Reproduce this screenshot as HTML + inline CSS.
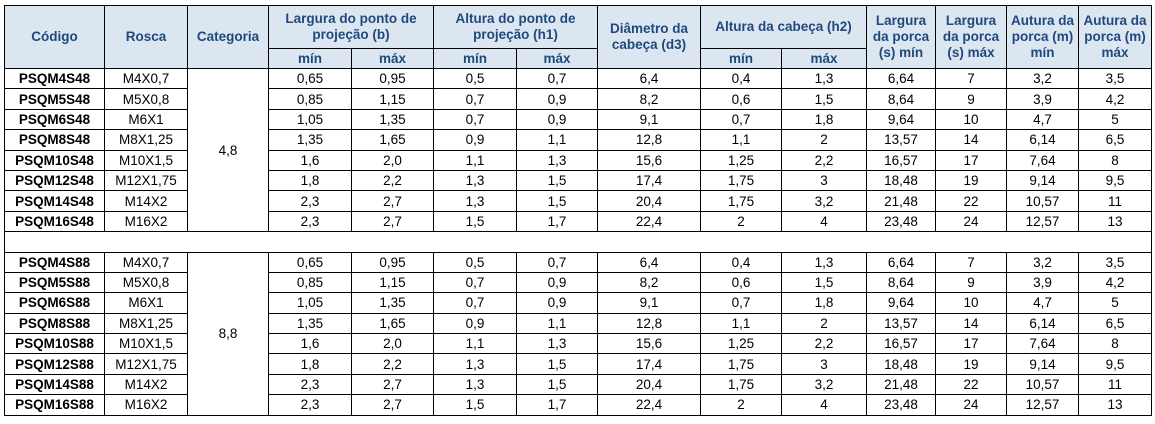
<!DOCTYPE html>
<html><head><meta charset="utf-8"><style>
body{margin:0;background:#fff;width:1155px;height:424px;overflow:hidden}
table{position:absolute;left:4px;top:5px;border-collapse:collapse;table-layout:fixed;font-family:"Liberation Sans",sans-serif;font-size:13.5px;color:#000}
td,th{border:1px solid #000;text-align:center;padding:0;white-space:nowrap;overflow:hidden}
th{background:#dce6f1;color:#1f497d;font-weight:bold;font-size:13.5px;line-height:16px}
tr.h1 th{height:42px}
tr.h2 th{height:19px}
tbody tr td{height:19.4px;line-height:17px}
td.c{font-weight:bold}
tr.gap td{height:19.4px}
</style></head><body>
<table>
<colgroup><col style="width:100px"><col style="width:83px"><col style="width:81px"><col style="width:83px"><col style="width:82px"><col style="width:83px"><col style="width:81px"><col style="width:103px"><col style="width:81px"><col style="width:85px"><col style="width:69px"><col style="width:71px"><col style="width:72px"><col style="width:73px"></colgroup>
<thead>
<tr class="h1"><th rowspan="2">Código</th><th rowspan="2">Rosca</th><th rowspan="2">Categoria</th><th colspan="2">Largura do ponto de<br>projeção (b)</th><th colspan="2">Altura do ponto de<br>projeção (h1)</th><th rowspan="2">Diâmetro da<br>cabeça (d3)</th><th colspan="2">Altura da cabeça (h2)</th><th rowspan="2">Largura<br>da porca<br>(s) mín</th><th rowspan="2">Largura<br>da porca<br>(s) máx</th><th rowspan="2">Autura da<br>porca (m)<br>mín</th><th rowspan="2">Autura da<br>porca (m)<br>máx</th></tr>
<tr class="h2"><th>mín</th><th>máx</th><th>mín</th><th>máx</th><th>mín</th><th>máx</th></tr>
</thead>
<tbody>
<tr><td class="c">PSQM4S48</td><td>M4X0,7</td><td rowspan="8">4,8</td><td>0,65</td><td>0,95</td><td>0,5</td><td>0,7</td><td>6,4</td><td>0,4</td><td>1,3</td><td>6,64</td><td>7</td><td>3,2</td><td>3,5</td></tr>
<tr><td class="c">PSQM5S48</td><td>M5X0,8</td><td>0,85</td><td>1,15</td><td>0,7</td><td>0,9</td><td>8,2</td><td>0,6</td><td>1,5</td><td>8,64</td><td>9</td><td>3,9</td><td>4,2</td></tr>
<tr><td class="c">PSQM6S48</td><td>M6X1</td><td>1,05</td><td>1,35</td><td>0,7</td><td>0,9</td><td>9,1</td><td>0,7</td><td>1,8</td><td>9,64</td><td>10</td><td>4,7</td><td>5</td></tr>
<tr><td class="c">PSQM8S48</td><td>M8X1,25</td><td>1,35</td><td>1,65</td><td>0,9</td><td>1,1</td><td>12,8</td><td>1,1</td><td>2</td><td>13,57</td><td>14</td><td>6,14</td><td>6,5</td></tr>
<tr><td class="c">PSQM10S48</td><td>M10X1,5</td><td>1,6</td><td>2,0</td><td>1,1</td><td>1,3</td><td>15,6</td><td>1,25</td><td>2,2</td><td>16,57</td><td>17</td><td>7,64</td><td>8</td></tr>
<tr><td class="c">PSQM12S48</td><td>M12X1,75</td><td>1,8</td><td>2,2</td><td>1,3</td><td>1,5</td><td>17,4</td><td>1,75</td><td>3</td><td>18,48</td><td>19</td><td>9,14</td><td>9,5</td></tr>
<tr><td class="c">PSQM14S48</td><td>M14X2</td><td>2,3</td><td>2,7</td><td>1,3</td><td>1,5</td><td>20,4</td><td>1,75</td><td>3,2</td><td>21,48</td><td>22</td><td>10,57</td><td>11</td></tr>
<tr><td class="c">PSQM16S48</td><td>M16X2</td><td>2,3</td><td>2,7</td><td>1,5</td><td>1,7</td><td>22,4</td><td>2</td><td>4</td><td>23,48</td><td>24</td><td>12,57</td><td>13</td></tr>
<tr class="gap"><td colspan="14"></td></tr>
<tr><td class="c">PSQM4S88</td><td>M4X0,7</td><td rowspan="8">8,8</td><td>0,65</td><td>0,95</td><td>0,5</td><td>0,7</td><td>6,4</td><td>0,4</td><td>1,3</td><td>6,64</td><td>7</td><td>3,2</td><td>3,5</td></tr>
<tr><td class="c">PSQM5S88</td><td>M5X0,8</td><td>0,85</td><td>1,15</td><td>0,7</td><td>0,9</td><td>8,2</td><td>0,6</td><td>1,5</td><td>8,64</td><td>9</td><td>3,9</td><td>4,2</td></tr>
<tr><td class="c">PSQM6S88</td><td>M6X1</td><td>1,05</td><td>1,35</td><td>0,7</td><td>0,9</td><td>9,1</td><td>0,7</td><td>1,8</td><td>9,64</td><td>10</td><td>4,7</td><td>5</td></tr>
<tr><td class="c">PSQM8S88</td><td>M8X1,25</td><td>1,35</td><td>1,65</td><td>0,9</td><td>1,1</td><td>12,8</td><td>1,1</td><td>2</td><td>13,57</td><td>14</td><td>6,14</td><td>6,5</td></tr>
<tr><td class="c">PSQM10S88</td><td>M10X1,5</td><td>1,6</td><td>2,0</td><td>1,1</td><td>1,3</td><td>15,6</td><td>1,25</td><td>2,2</td><td>16,57</td><td>17</td><td>7,64</td><td>8</td></tr>
<tr><td class="c">PSQM12S88</td><td>M12X1,75</td><td>1,8</td><td>2,2</td><td>1,3</td><td>1,5</td><td>17,4</td><td>1,75</td><td>3</td><td>18,48</td><td>19</td><td>9,14</td><td>9,5</td></tr>
<tr><td class="c">PSQM14S88</td><td>M14X2</td><td>2,3</td><td>2,7</td><td>1,3</td><td>1,5</td><td>20,4</td><td>1,75</td><td>3,2</td><td>21,48</td><td>22</td><td>10,57</td><td>11</td></tr>
<tr><td class="c">PSQM16S88</td><td>M16X2</td><td>2,3</td><td>2,7</td><td>1,5</td><td>1,7</td><td>22,4</td><td>2</td><td>4</td><td>23,48</td><td>24</td><td>12,57</td><td>13</td></tr>
</tbody>
</table>
</body></html>
